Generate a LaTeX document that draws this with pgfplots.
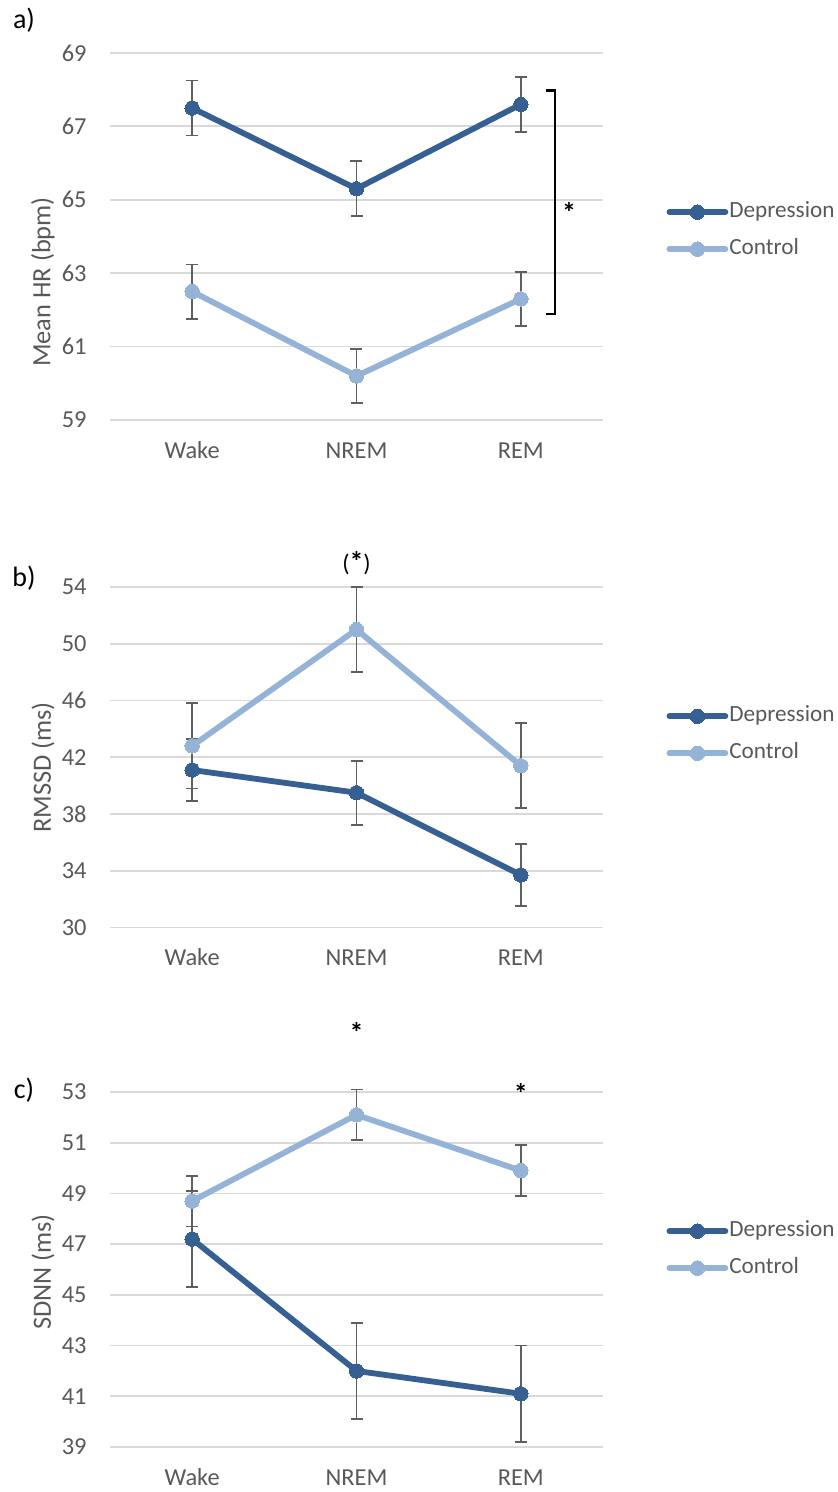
\documentclass[border=0pt]{standalone}
\usepackage{fontspec}
\setmainfont{Carlito}
\usepackage{pgfplots}
\pgfplotsset{compat=1.18}
\definecolor{dep}{RGB}{55,96,146}
\definecolor{con}{RGB}{149,179,215}
\definecolor{txt}{RGB}{89,89,89}
\definecolor{grd}{RGB}{217,217,217}
\definecolor{err}{RGB}{95,95,95}
\tikzset{sigstar/.style={anchor=north, inner sep=0pt, font=\fontsize{14}{16}\selectfont\bfseries}}
\pgfplotsset{
  panel/.style={
    scale only axis,
    width=246.5pt,
    xmin=-0.5, xmax=2.5,
    xtick={0,1,2}, xticklabels={Wake,NREM,REM},
    axis line style={draw=none},
    major tick length=0pt,
    ymajorgrids, grid style={grd, line width=0.9pt},
    tick label style={font=\fontsize{12.2}{14}\selectfont, text=txt},
    /pgf/number format/assume math mode=true,
    yticklabel style={anchor=east, inner sep=0pt, xshift=-11.5pt},
    xticklabel style={anchor=base, inner sep=0pt, yshift=-19pt},
    label style={font=\fontsize{13.2}{15}\selectfont, text=txt},
    clip=false,
    legend cell align=left,
    legend style={draw=none, fill=none, inner sep=0pt, anchor=west,
      row sep=6.7pt,
      nodes={inner sep=0.5pt, text height=8.2pt, text depth=2.6pt, text=txt,
        font=\fontsize{11.6}{13}\selectfont}},
    legend image code/.code={
      \draw[##1, mark=none] (0pt,0pt) -- (28pt,0pt);
      \draw[##1, only marks] plot coordinates {(14pt,0pt)};
    },
  },
  depser/.style={dep, line width=2.9pt, line cap=round, line join=round,
    mark=*, mark size=3.6pt, mark options={solid, fill=dep, draw=dep, line width=0pt},
    error bars/.cd, y dir=both, y explicit,
    error bar style={err, line width=0.85pt, line cap=butt},
    error mark options={rotate=90, err, mark size=3pt, line width=0.85pt}},
  conser/.style={con, line width=2.9pt, line cap=round, line join=round,
    mark=*, mark size=3.6pt, mark options={solid, fill=con, draw=con, line width=0pt},
    error bars/.cd, y dir=both, y explicit,
    error bar style={err, line width=0.85pt, line cap=butt},
    error mark options={rotate=90, err, mark size=3pt, line width=0.85pt}},
}
\begin{document}
\begin{tikzpicture}
\path[use as bounding box] (0pt,0pt) rectangle (418.5pt,-746pt);
\node[font=\fontsize{14}{16}\selectfont, inner sep=0pt] at (12pt,-10pt) {a)};
\node[font=\fontsize{14}{16}\selectfont, inner sep=0pt] at (12pt,-289pt) {b)};
\node[font=\fontsize{14}{16}\selectfont, inner sep=0pt] at (12pt,-545pt) {c)};

% Panel a
\begin{axis}[panel, at={(55pt,-210pt)}, anchor=south west, height=183.5pt,
  ymin=59, ymax=69, ytick={59,61,63,65,67,69},
  ylabel={Mean HR (bpm)},
  ylabel style={at={(axis description cs:-0.136,0.376)}, anchor=center},
  legend style={at={(1.128,0.516)}}]
\addplot[depser] coordinates {(0,67.5) +- (0,0.75) (1,65.3) +- (0,0.75) (2,67.6) +- (0,0.75)};
\addlegendentry{Depression}
\addplot[conser] coordinates {(0,62.5) +- (0,0.74) (1,60.2) +- (0,0.74) (2,62.3) +- (0,0.74)};
\addlegendentry{Control}
\draw[black, line width=1.1pt] (axis cs:2.152,67.98) -- (axis cs:2.207,67.98) -- (axis cs:2.207,61.88) -- (axis cs:2.152,61.88);
\node[sigstar] at (axis cs:2.293,64.95) {*};
\end{axis}

% Panel b
\begin{axis}[panel, at={(55pt,-463.75pt)}, anchor=south west, height=170.25pt,
  ymin=30, ymax=54, ytick={30,34,38,42,46,50,54},
  ylabel={RMSSD (ms)},
  ylabel style={at={(axis description cs:-0.136,0.47)}, anchor=center},
  legend style={at={(1.128,0.566)}}]
\addplot[depser] coordinates {(0,41.1) +- (0,2.2) (1,39.5) +- (0,2.25) (2,33.7) +- (0,2.2)};
\addlegendentry{Depression}
\addplot[conser] coordinates {(0,42.8) +- (0,3.0) (1,51.0) +- (0,3.0) (2,41.4) +- (0,3.0)};
\addlegendentry{Control}
\node[anchor=north, inner sep=0pt, font=\fontsize{12}{14}\selectfont] at (axis cs:1,56.5) {(\textbf{\fontsize{14}{16}\selectfont *})};
\end{axis}

% Panel c
\begin{axis}[panel, at={(55pt,-723.5pt)}, anchor=south west, height=177.5pt,
  ymin=39, ymax=53, ytick={39,41,43,45,47,49,51,53},
  ylabel={SDNN (ms)},
  ylabel style={at={(axis description cs:-0.136,0.493)}, anchor=center},
  legend style={at={(1.128,0.556)}}]
\addplot[depser] coordinates {(0,47.2) +- (0,1.9) (1,42.0) +- (0,1.9) (2,41.1) +- (0,1.9)};
\addlegendentry{Depression}
\addplot[conser] coordinates {(0,48.7) +- (0,1.0) (1,52.1) +- (0,1.0) (2,49.9) +- (0,1.0)};
\addlegendentry{Control}
\node[sigstar] at (axis cs:1,55.75) {*};
\node[sigstar] at (axis cs:2,53.35) {*};
\end{axis}
\end{tikzpicture}
\end{document}
